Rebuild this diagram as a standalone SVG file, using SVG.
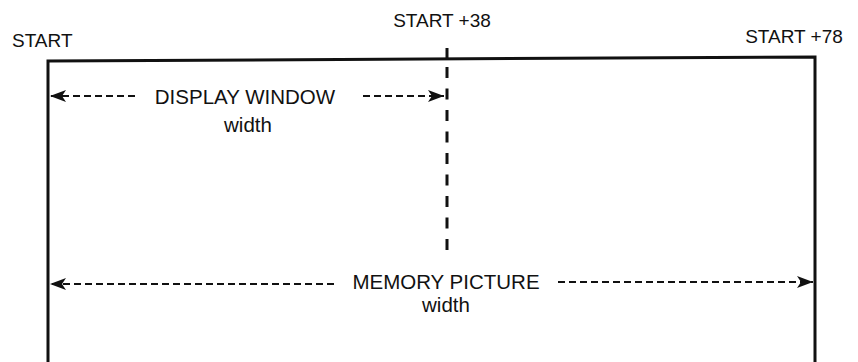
<svg xmlns="http://www.w3.org/2000/svg" width="858" height="362" viewBox="0 0 858 362">
<defs>
<style>
.lbl{font-family:"Liberation Sans",Arial,Helvetica,sans-serif;fill:#111}
.top{font-size:19px}
.mid{font-size:20.5px}
.frame{stroke:#111;stroke-width:3;fill:none}
.dim{stroke:#111;stroke-width:1.8;stroke-dasharray:7 4;fill:none}
.vdash{stroke:#111;stroke-width:3;stroke-dasharray:11 10.5;fill:none}
</style>
<marker id="ah" viewBox="0 0 16 12" refX="16" refY="6" markerWidth="16" markerHeight="12" markerUnits="userSpaceOnUse" orient="auto-start-reverse">
<path d="M0,0 L16,6 L0,12 L4,6 Z" fill="#111"/>
</marker>
</defs>
<rect width="858" height="362" fill="#fff"/>
<g id="frame">
<path class="frame" d="M48,362 L48,61 L815,57 L815,362"/>
</g>
<g id="labels">
<text class="lbl top" x="12" y="47">START</text>
<text class="lbl top" x="442" y="27" text-anchor="middle">START +38</text>
<text class="lbl top" x="794" y="43" text-anchor="middle">START +78</text>
</g>
<g id="display-window">
<text class="lbl mid" x="245" y="104" text-anchor="middle">DISPLAY WINDOW</text>
<text class="lbl mid" x="248" y="132" text-anchor="middle">width</text>
</g>
<g id="memory-picture">
<text class="lbl mid" x="446" y="289" text-anchor="middle">MEMORY PICTURE</text>
<text class="lbl mid" x="446" y="312" text-anchor="middle">width</text>
</g>
<g id="connectors">
<line x1="447" y1="48" x2="447" y2="60" stroke="#111" stroke-width="3"/>
<line class="vdash" x1="447" y1="67" x2="447" y2="252"/>
<line class="dim" x1="135" y1="96" x2="50" y2="96" marker-end="url(#ah)"/>
<line class="dim" x1="363" y1="96" x2="444" y2="96" marker-end="url(#ah)"/>
<line class="dim" x1="334" y1="284" x2="50" y2="284" marker-end="url(#ah)"/>
<line class="dim" x1="558" y1="282" x2="813" y2="282" marker-end="url(#ah)"/>
</g>
</svg>
